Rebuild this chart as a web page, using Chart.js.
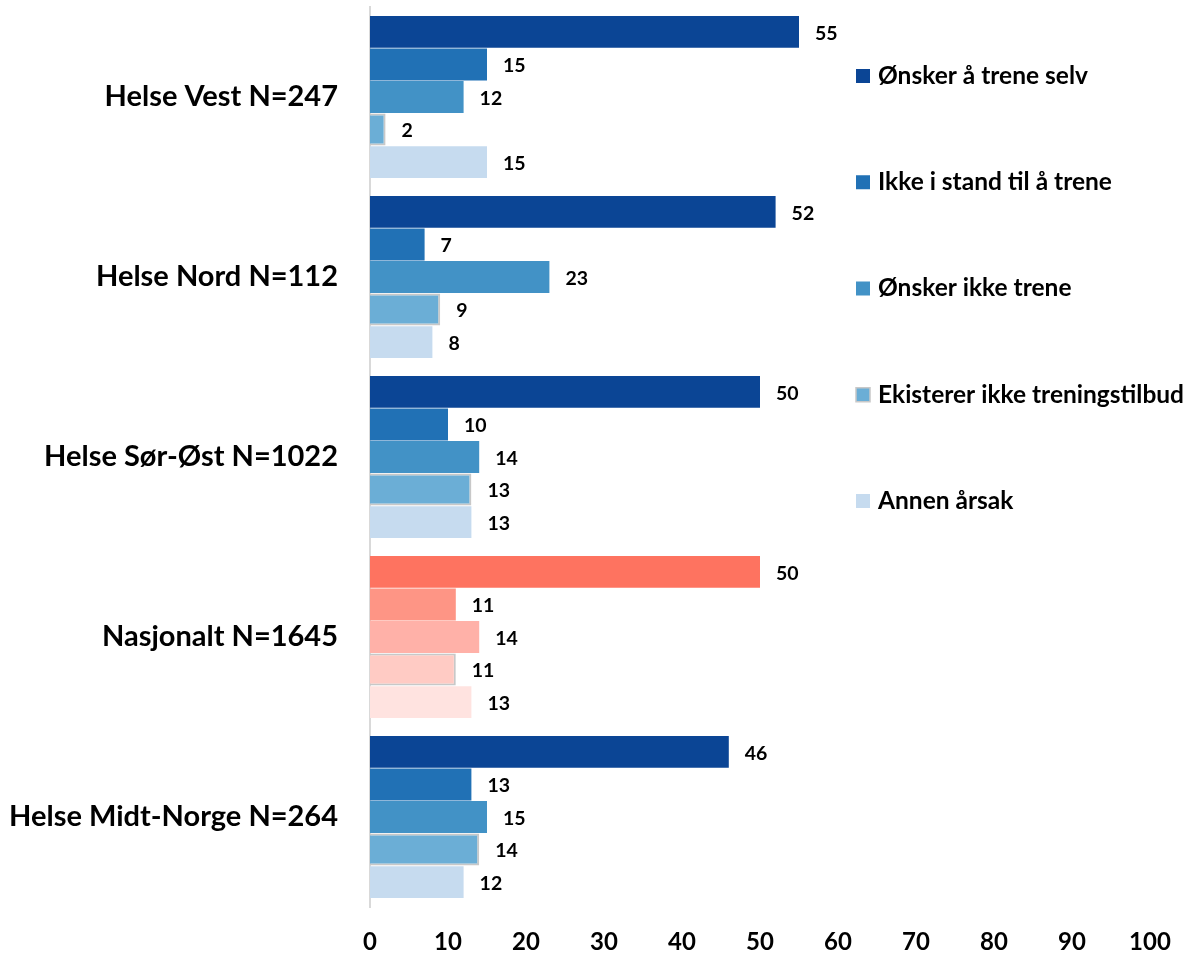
<!DOCTYPE html>
<html>
<head>
<meta charset="utf-8">
<script src="https://cdn.jsdelivr.net/npm/chart.js@4"></script>
<style>
  html, body { margin: 0; padding: 0; background: #fff; }
  #wrap { width: 1199px; height: 958px; position: relative; }
</style>
</head>
<body>
<div id="wrap"><canvas id="reasonChart"></canvas></div>
<script>
const regions = ["Helse Vest N=247", "Helse Nord N=112", "Helse Sør-Øst N=1022", "Nasjonalt N=1645", "Helse Midt-Norge N=264"];
const seriesNames = ["Ønsker å trene selv", "Ikke i stand til å trene", "Ønsker ikke trene", "Ekisterer ikke treningstilbud", "Annen årsak"];

const onskerSelv = [55, 52, 50, 50, 46];
const ikkeIStand = [15, 7, 10, 11, 13];
const onskerIkke = [12, 23, 14, 14, 15];
const ekistererIkke = [2, 9, 13, 11, 14];
const annenArsak = [15, 8, 13, 13, 12];

const blues = ["#0b4595", "#2171b5", "#4292c6", "#6baed6", "#c6dbef"];
const reds = ["#fe7360", "#fe9585", "#ffb1a8", "#ffcbc4", "#ffe3e0"];
const nationalIndex = 3;

const font = "Lato, 'Open Sans', sans-serif";

function makeDataset(i, values) {
    let colors = regions.map((r, k) => k == nationalIndex ? reds[i] : blues[i]);
    return {
        label: seriesNames[i],
        data: values,
        backgroundColor: colors,
        borderColor: i == 3 ? "#c8c8c8" : colors,
        borderWidth: i == 3 ? 2 : 0,
        borderSkipped: 'start',
        categoryPercentage: 0.905,
        barPercentage: 0.98
    };
}

// value labels next to each bar
const valueLabels = {
    id: 'valueLabels',
    afterDatasetsDraw(chart) {
        const ctx = chart.ctx;
        ctx.save();
        ctx.fillStyle = "#000";
        ctx.font = "bold 19.5px " + font;
        ctx.textAlign = "left";
        ctx.textBaseline = "middle";
        chart.data.datasets.forEach((ds, i) => {
            chart.getDatasetMeta(i).data.forEach((bar, j) => {
                ctx.fillText(ds.data[j], bar.x + 16, bar.y + 1.5);
            });
        });
        ctx.restore();
    }
};

// legend drawn on the right side, spaced out like the original
const sideLegend = {
    id: 'sideLegend',
    afterDraw(chart) {
        const ctx = chart.ctx;
        ctx.save();
        ctx.font = "bold 24.5px " + font;
        ctx.textBaseline = "middle";
        ctx.textAlign = "left";
        seriesNames.forEach((name, i) => {
            let y = 76 + i * 106.25;
            ctx.fillStyle = blues[i];
            ctx.fillRect(856, y - 7, 14, 14);
            if (i == 3) {
                ctx.strokeStyle = "#c8c8c8";
                ctx.lineWidth = 1.5;
                ctx.strokeRect(856, y - 7, 14, 14);
            }
            ctx.fillStyle = "#000";
            ctx.fillText(name, 878, y);
        });
        ctx.restore();
    }
};

new Chart("reasonChart", {
    type: "bar",
    data: {
        labels: regions,
        datasets: [
            makeDataset(0, onskerSelv),
            makeDataset(1, ikkeIStand),
            makeDataset(2, onskerIkke),
            makeDataset(3, ekistererIkke),
            makeDataset(4, annenArsak)
        ]
    },
    options: {
        indexAxis: 'y',
        responsive: true,
        maintainAspectRatio: false,
        animation: false,
        layout: { padding: { top: 7, right: 49, bottom: 2, left: 0 } },
        plugins: {
            legend: { display: false },
            tooltip: { enabled: false }
        },
        scales: {
            x: {
                min: 0,
                max: 100,
                ticks: { stepSize: 10, color: "#000", font: { family: font, size: 24, weight: "bold" }, padding: 21 },
                grid: { display: false, drawTicks: false },
                border: { display: false },
                afterFit(scale) { scale.height = 49; }
            },
            y: {
                ticks: { color: "#000", font: { family: font, size: 29, weight: "bold" }, padding: 32 },
                grid: { display: false, drawTicks: false },
                border: { display: true, color: "#d9d9d9", width: 2 },
                afterFit(scale) {
                    scale.width = 370;
                    scale.paddingTop = 0;
                    scale.paddingBottom = 0;
                }
            }
        }
    },
    plugins: [valueLabels, sideLegend]
});
</script>
</body>
</html>
